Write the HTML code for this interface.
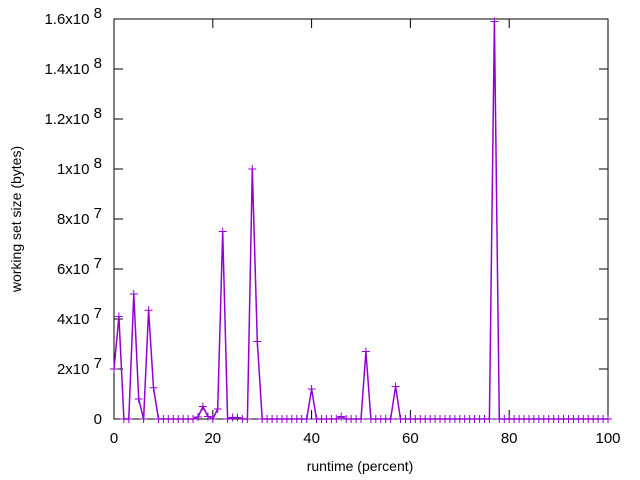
<!DOCTYPE html>
<html><head><meta charset="utf-8"><style>
html,body{margin:0;padding:0;background:#fff;}
svg{display:block;font-family:"Liberation Sans",sans-serif;font-size:14px;}
#lb{font-size:15px;}
</style></head><body>
<svg id="s" width="640" height="480" xmlns="http://www.w3.org/2000/svg">
<rect x="0" y="0" width="640" height="480" fill="#fff"/>
<g id="ax" stroke="#000" stroke-width="1" fill="none"></g>
<g id="lb" fill="#000"></g>
<path id="ln" fill="none" stroke="#9400d3" stroke-width="1.5"/>
<path id="mk" fill="none" stroke="#9400d3" stroke-width="1"/>
<text x="360" y="471" text-anchor="middle">runtime (percent)</text>
<text transform="translate(21,219) rotate(-90)" text-anchor="middle">working set size (bytes)</text>
</svg>
<script>
var X0=114,X1=608,Y0=419,Y1=19;
function px(i){return X0+(X1-X0)*i/100;}
function py(v){return Y0-(Y0-Y1)*v/1.6e8;}
var ax=document.getElementById('ax'),lb=document.getElementById('lb');
var d='M'+X0+','+Y1+'H'+X1+'V'+Y0+'H'+X0+'Z';
var t='';
var labs=['0',['2','7'],['4','7'],['6','7'],['8','7'],['1','8'],['1.2','8'],['1.4','8'],['1.6','8']];
for(var k=0;k<=8;k++){
 var y=Y0-50*k;
 d+='M'+X0+','+y+'h9M'+X1+','+y+'h-9';
 if(k==0){t+='<text x="102" y="'+(y+5)+'" text-anchor="end">0</text>';}
 else{
  t+='<text x="102" y="'+(y+5)+'" text-anchor="end">'+labs[k][0]+'x10 <tspan dy="-6">'+labs[k][1]+'</tspan></text>';
 }
}
for(var k=0;k<=5;k++){
 var x=X0+(X1-X0)*k/5;
 d+='M'+x+','+Y0+'v-9M'+x+','+Y1+'v9';
 t+='<text x="'+x+'" y="443" text-anchor="middle">'+(k*20)+'</text>';
}
var p=document.createElementNS('http://www.w3.org/2000/svg','path');
p.setAttribute('d',d);ax.appendChild(p);
lb.innerHTML=t;
var vals=new Array(101).fill(0);
var set={0:2e7,1:4.1e7,4:5e7,5:8e6,7:4.35e7,8:1.25e7,17:0.8e6,18:5e6,19:1e6,21:4e6,22:7.5e7,24:0.6e6,25:0.6e6,28:1e8,29:3.1e7,40:1.2e7,46:1e6,51:2.7e7,57:1.3e7,77:1.59e8};
for(var k in set)vals[k]=set[k];
var l='',m='';
for(var i=0;i<=100;i++){
 var x=px(i),y=py(vals[i]);
 l+=(i?'L':'M')+x.toFixed(1)+','+y.toFixed(1);
 m+='M'+(x-4).toFixed(1)+','+y.toFixed(1)+'h8M'+x.toFixed(1)+','+(y-4).toFixed(1)+'v8';
}
document.getElementById('ln').setAttribute('d',l);
document.getElementById('mk').setAttribute('d',m);
</script>
</body></html>
